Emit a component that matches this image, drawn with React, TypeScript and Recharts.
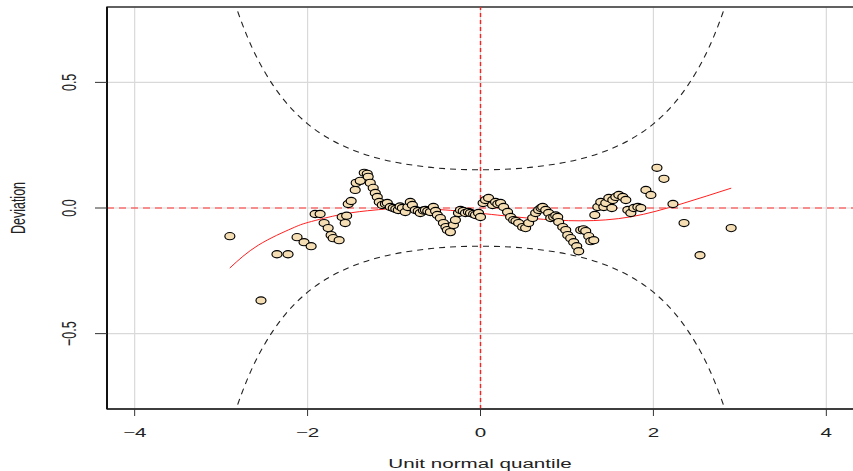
import React from 'react';
import {
  ComposedChart, Scatter, Line, XAxis, YAxis, CartesianGrid,
  ReferenceLine, ReferenceArea, Label,
} from 'recharts';

// Unit normal quantiles (x) and deviations (y) of the worm points
const quantiles = [
  -2.899, -2.539, -2.354, -2.226, -2.122, -2.041, -1.959, -1.913, -1.855, -1.809,
  -1.762, -1.728, -1.704, -1.635, -1.600, -1.565, -1.548, -1.530, -1.496, -1.449,
  -1.438, -1.391, -1.345, -1.310, -1.299, -1.275, -1.241, -1.217, -1.194, -1.171,
  -1.136, -1.100, -1.078, -1.043, -1.009, -0.980, -0.951, -0.930, -0.904, -0.870,
  -0.840, -0.812, -0.788, -0.754, -0.720, -0.696, -0.660, -0.638, -0.610, -0.580,
  -0.545, -0.520, -0.499, -0.464, -0.429, -0.400, -0.383, -0.348, -0.313, -0.290,
  -0.255, -0.232, -0.200, -0.174, -0.140, -0.116, -0.080, -0.058, -0.023, 0.000,
  0.030, 0.058, 0.093, 0.139, 0.174, 0.200, 0.232, 0.267, 0.313, 0.348,
  0.383, 0.410, 0.441, 0.487, 0.522, 0.557, 0.603, 0.638, 0.672, 0.700,
  0.719, 0.754, 0.788, 0.812, 0.846, 0.870, 0.893, 0.904, 0.951, 0.986,
  1.009, 1.043, 1.078, 1.113, 1.136, 1.159, 1.190, 1.217, 1.252, 1.275,
  1.310, 1.322, 1.357, 1.391, 1.426, 1.449, 1.484, 1.519, 1.530, 1.565,
  1.600, 1.646, 1.681, 1.704, 1.739, 1.774, 1.820, 1.855, 1.913, 1.971,
  2.041, 2.122, 2.226, 2.354, 2.539, 2.899,
];
const deviations = [
  -0.112, -0.368, -0.184, -0.184, -0.116, -0.136, -0.152, -0.024, -0.024, -0.060,
  -0.080, -0.108, -0.120, -0.128, -0.036, -0.060, -0.031, 0.016, 0.028, 0.072,
  0.100, 0.108, 0.140, 0.136, 0.124, 0.100, 0.080, 0.060, 0.044, 0.024,
  0.012, 0.016, 0.020, 0.004, 0.000, -0.004, -0.008, 0.006, 0.000, -0.016,
  0.004, 0.024, 0.012, -0.008, -0.012, -0.020, -0.010, -0.008, -0.012, -0.016,
  0.004, -0.012, -0.028, -0.040, -0.060, -0.076, -0.088, -0.096, -0.068, -0.048,
  -0.020, -0.008, -0.012, -0.020, -0.016, -0.020, -0.024, -0.028, -0.020, -0.036,
  0.020, 0.032, 0.040, 0.012, 0.024, 0.016, 0.020, 0.004, -0.016, -0.036,
  -0.048, -0.052, -0.060, -0.076, -0.080, -0.060, -0.040, -0.020, -0.008, 0.000,
  0.004, -0.008, -0.020, -0.040, -0.036, -0.030, -0.036, -0.056, -0.076, -0.088,
  -0.108, -0.120, -0.136, -0.152, -0.172, -0.088, -0.085, -0.092, -0.112, -0.132,
  -0.128, -0.028, 0.004, 0.024, 0.004, 0.020, 0.040, 0.000, 0.032, 0.044,
  0.052, 0.044, 0.032, -0.008, -0.020, 0.000, 0.004, 0.000, 0.072, 0.052,
  0.160, 0.116, 0.016, -0.060, -0.188, -0.080,
];

// Fitted cubic curve
const fitX = [-2.9, -2.57, -2.18, -1.99, -1.6, -1.22, -0.87, -0.4, 0, 0.58, 1.16, 1.74, 2.32, 2.9];
const fitY = [-0.239, -0.148, -0.081, -0.057, -0.025, -0.008, -0.001, -0.008, -0.021, -0.041, -0.051, -0.035, 0.016, 0.079];

// Approximate 95% confidence bands
const bandX = [-2.85, -2.8, -2.7, -2.6, -2.5, -2.4, -2.25, -2.0, -1.75, -1.5, -1.25, -1.0, -0.75, -0.5, 0,
  0.5, 0.75, 1.0, 1.25, 1.5, 1.75, 2.0, 2.25, 2.4, 2.5, 2.6, 2.7, 2.8, 2.85];
const bandUpper = [0.824, 0.774, 0.684, 0.608, 0.544, 0.489, 0.420, 0.335, 0.276, 0.234, 0.204, 0.183, 0.169, 0.159, 0.152,
  0.159, 0.169, 0.183, 0.204, 0.234, 0.276, 0.335, 0.420, 0.489, 0.544, 0.608, 0.684, 0.774, 0.824];
const bandLower = [-0.824, -0.774, -0.684, -0.608, -0.544, -0.489, -0.420, -0.335, -0.276, -0.234, -0.204, -0.183, -0.169, -0.159, -0.152,
  -0.159, -0.169, -0.183, -0.204, -0.234, -0.276, -0.335, -0.420, -0.489, -0.544, -0.608, -0.684, -0.774, -0.824];

const xTicks = [-4, -2, 0, 2, 4];
const yTicks = [-0.5, 0, 0.5];
const xTitle = 'Unit normal quantile';
const yTitle = 'Deviation';

const points = quantiles.map((x, i) => ({ x, y: deviations[i] }));
const fitData = fitX.map((x, i) => ({ x, y: fitY[i] }));
const upperData = bandX.map((x, i) => ({ x, y: bandUpper[i] }));
const lowerData = bandX.map((x, i) => ({ x, y: bandLower[i] }));

const FONT = '"Liberation Sans", Arial, Helvetica, sans-serif';
const SX = 1.65;
const FS = 12.5;

const fmt = (v: number) => (v < 0 ? '\u2212' + Math.abs(v) : String(v));
const fmtY = (v: number) => (v < 0 ? '\u2212' + Math.abs(v).toFixed(1) : v.toFixed(1));

const XTick = (props: any) => {
  const { x, payload } = props;
  return (
    <g transform={`translate(${x},437) scale(${SX},1)`}>
      <text x={0} y={0} textAnchor="middle" fontFamily={FONT} fontSize={FS} fill="#222">
        {fmt(payload.value)}
      </text>
    </g>
  );
};

const YTick = (props: any) => {
  const { y, payload } = props;
  return (
    <g transform={`translate(76,${y}) scale(${SX},1) rotate(-90)`}>
      <text x={0} y={0} textAnchor="middle" fontFamily={FONT} fontSize={FS} fill="#222">
        {fmtY(payload.value)}
      </text>
    </g>
  );
};

const Dot = (p: any) => (
  <ellipse cx={p.cx} cy={p.cy} rx={5} ry={3.6} fill="#F5DEB3" stroke="#000" strokeWidth={1.15} />
);

export default function App() {
  return (
    <div style={{ position: 'absolute', left: 0, top: 0, width: 853, height: 471, overflow: 'hidden', background: '#fff' }}>
      <ComposedChart
        width={870}
        height={471}
        margin={{ top: 7, right: 16, bottom: 0, left: 0 }}
      >
        <CartesianGrid stroke="#d9d9d9" strokeWidth={1.2} />
        <XAxis
          type="number"
          dataKey="x"
          domain={[-4.32, 4.32]}
          ticks={xTicks}
          allowDataOverflow
          tickSize={7}
          tickLine={{ stroke: '#333' }}
          axisLine={{ stroke: '#333', strokeWidth: 1.3 }}
          tick={<XTick />}
          height={62}
        >
          <Label
            content={() => (
              <g transform={`translate(480,468) scale(${SX},1)`}>
                <text x={0} y={0} textAnchor="middle" fontFamily={FONT} fontSize={FS} fill="#222">
                  {xTitle}
                </text>
              </g>
            )}
          />
        </XAxis>
        <YAxis
          type="number"
          dataKey="y"
          domain={[-0.8, 0.8]}
          ticks={yTicks}
          allowDataOverflow
          tickSize={12}
          tickLine={{ stroke: '#333' }}
          axisLine={{ stroke: '#111', strokeWidth: 2 }}
          tick={<YTick />}
          width={107}
        >
          <Label
            content={() => (
              <g transform={`translate(25,208) scale(${SX},1) rotate(-90)`}>
                <text x={0} y={0} textAnchor="middle" fontFamily={FONT} fontSize={FS} fill="#222">
                  {yTitle}
                </text>
              </g>
            )}
          />
        </YAxis>
        <ReferenceArea x1={-4.32} x2={4.32} y1={-0.8} y2={0.8} fill="none" stroke="#333" strokeWidth={1.3} ifOverflow="visible" />
        <Line data={upperData} dataKey="y" type="monotone" stroke="#222" strokeWidth={1.1} strokeDasharray="6 5" dot={false} isAnimationActive={false} />
        <Line data={lowerData} dataKey="y" type="monotone" stroke="#222" strokeWidth={1.1} strokeDasharray="6 5" dot={false} isAnimationActive={false} />
        <Scatter data={points} dataKey="y" shape={<Dot />} isAnimationActive={false} />
        <Line data={fitData} dataKey="y" type="natural" stroke="#ff2020" strokeWidth={1} dot={false} isAnimationActive={false} />
        <ReferenceLine y={0} stroke="#ff3030" strokeDasharray="7 5" strokeWidth={1.2} />
        <ReferenceLine x={0} stroke="#ff2020" strokeDasharray="4 3" strokeWidth={1.4} />
      </ComposedChart>
    </div>
  );
}
